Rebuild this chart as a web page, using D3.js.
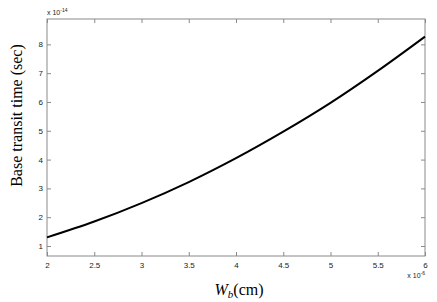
<!DOCTYPE html>
<html><head><meta charset="utf-8">
<script src="https://cdn.jsdelivr.net/npm/d3@7"></script>
<style>body{margin:0;background:#fff}svg{display:block}</style>
</head><body>
<script>
const wb = [2, 2.5, 3, 3.5, 4, 4.5, 5, 5.5, 6];           // ×10^-6 cm
const tau = [1.30, 1.85, 2.49, 3.22, 4.05, 4.97, 5.97, 7.08, 8.27]; // ×10^-14 s
const xTicks = [2, 2.5, 3, 3.5, 4, 4.5, 5, 5.5, 6];
const yTicks = [1, 2, 3, 4, 5, 6, 7, 8];

const W = 437, H = 302;
const m = {l: 47, r: 12, t: 19, b: 46};
const svg = d3.select("body").append("svg").attr("width", W).attr("height", H);
const x = d3.scaleLinear().domain([2, 6]).range([m.l, W - m.r]);
const y = d3.scaleLinear().domain([0.653, 8.88]).range([H - m.b, m.t]);
const axCol = "#8a8a8a", txtCol = "#222";
const tl = 4;

svg.append("rect").attr("x", m.l).attr("y", m.t).attr("width", W - m.r - m.l).attr("height", H - m.b - m.t)
  .attr("fill", "none").attr("stroke", axCol).attr("stroke-width", 1);

const gx = svg.append("g").attr("transform", `translate(0,${H - m.b})`)
  .call(d3.axisBottom(x).tickValues(xTicks).tickSize(-tl).tickPadding(6).tickFormat(d3.format("")));
const gxt = svg.append("g").attr("transform", `translate(0,${m.t})`)
  .call(d3.axisTop(x).tickValues(xTicks).tickSize(-tl).tickFormat(""));
const gy = svg.append("g").attr("transform", `translate(${m.l},0)`)
  .call(d3.axisLeft(y).tickValues(yTicks).tickSize(-tl).tickPadding(4));
const gyr = svg.append("g").attr("transform", `translate(${W - m.r},0)`)
  .call(d3.axisRight(y).tickValues(yTicks).tickSize(-tl).tickFormat(""));
[gx, gxt, gy, gyr].forEach(g => {
  g.select(".domain").remove();
  g.selectAll("line").attr("stroke", axCol);
  g.selectAll("text").attr("fill", txtCol).style("font-family", "Liberation Sans, Arial, sans-serif").style("font-size", "8px");
});

svg.append("path").datum(wb.map((d, i) => [d, tau[i]]))
  .attr("d", d3.line().x(d => x(d[0])).y(d => y(d[1])).curve(d3.curveMonotoneX))
  .attr("fill", "none").attr("stroke", "#000").attr("stroke-width", 2);

// exponent labels
const e1 = svg.append("text").attr("x", m.l).attr("y", 15).attr("fill", txtCol)
  .style("font-family", "Liberation Sans, Arial, sans-serif").style("font-size", "7px");
e1.append("tspan").text("x 10");
e1.append("tspan").attr("dy", -3).style("font-size", "5px").text("-14");
const e2 = svg.append("text").attr("x", W - m.r).attr("y", 278).attr("text-anchor", "end").attr("fill", txtCol)
  .style("font-family", "Liberation Sans, Arial, sans-serif").style("font-size", "7px");
e2.append("tspan").text("x 10");
e2.append("tspan").attr("dy", -3).style("font-size", "5px").text("-6");

// y label
svg.append("text").attr("transform", `translate(22,${(m.t + H - m.b) / 2 - 22}) rotate(-90)`)
  .attr("text-anchor", "middle").attr("fill", "#000")
  .style("font-family", "Liberation Serif, Times New Roman, serif").style("font-size", "16px")
  .text("Base transit time (sec)");

// x label
const xl = svg.append("text").attr("x", (m.l + W - m.r) / 2 + 3).attr("y", 295).attr("text-anchor", "middle").attr("fill", "#000")
  .style("font-family", "Liberation Serif, Times New Roman, serif").style("font-size", "16px");
xl.append("tspan").style("font-style", "italic").text("W");
xl.append("tspan").style("font-style", "italic").style("font-size", "11px").attr("dy", 3).text("b");
xl.append("tspan").attr("dy", -3).text("(cm)");
</script>
</body></html>
